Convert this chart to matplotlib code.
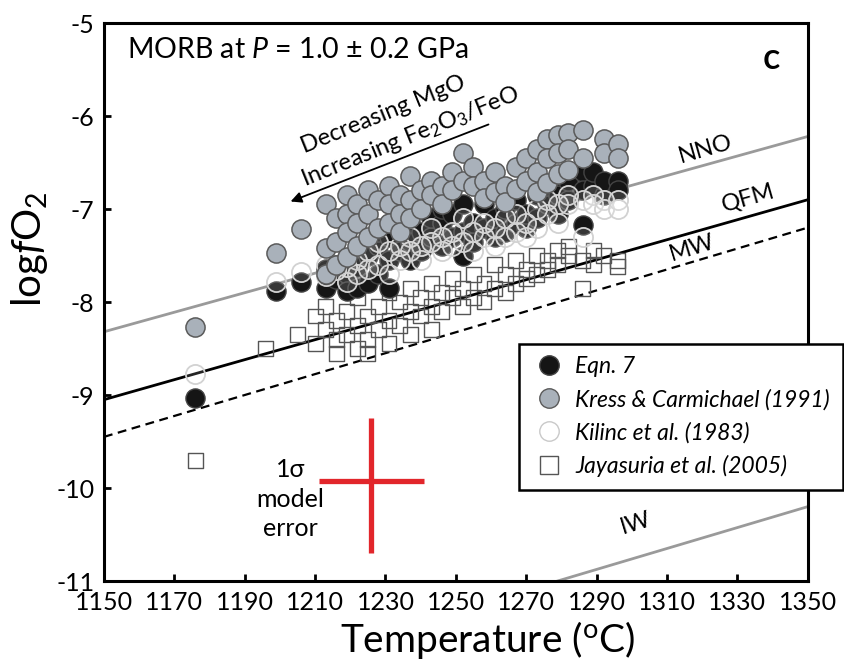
import matplotlib
matplotlib.use('Agg')
import matplotlib.pyplot as plt
from matplotlib import font_manager as fm
from matplotlib.lines import Line2D

names = {f.name for f in fm.fontManager.ttflist}
MAIN = 'Lato' if 'Lato' in names else 'DejaVu Sans'
NARROW = 'Liberation Sans Narrow' if 'Liberation Sans Narrow' in names else MAIN

plt.rcParams['font.family'] = [MAIN, 'DejaVu Sans']
plt.rcParams['axes.unicode_minus'] = False
plt.rcParams['mathtext.fontset'] = 'custom'
plt.rcParams['mathtext.rm'] = MAIN
plt.rcParams['mathtext.it'] = MAIN + ':italic'
plt.rcParams['mathtext.bf'] = MAIN + ':bold'

# ---------------- data ----------------
# Kress & Carmichael (1991): temperature -> logfO2 values
kc_cols = {
    1176: [-8.27], 1199: [-7.47], 1206: [-7.22],
    1213: [-6.95, -7.42, -7.70], 1216: [-7.10, -7.35, -7.60],
    1219: [-6.85, -7.05, -7.25, -7.52], 1222: [-6.95, -7.15, -7.40],
    1225: [-6.80, -7.05, -7.30], 1228: [-6.90, -7.20],
    1231: [-6.75, -6.95, -7.15], 1234: [-6.85, -7.05, -7.25],
    1237: [-6.65, -6.90, -7.10], 1240: [-6.80, -7.00],
    1243: [-6.70, -6.85], 1246: [-6.75, -6.95],
    1249: [-6.60, -6.80], 1252: [-6.40, -6.70],
    1255: [-6.55, -6.75], 1258: [-6.70, -6.88], 1261: [-6.60, -6.82],
    1264: [-6.75, -6.92], 1267: [-6.55, -6.78], 1270: [-6.45, -6.70],
    1273: [-6.35, -6.60, -6.82], 1276: [-6.25, -6.45, -6.72],
    1279: [-6.20, -6.40, -6.62], 1282: [-6.18, -6.35, -6.58],
    1286: [-6.15, -6.45], 1292: [-6.25, -6.40], 1296: [-6.30, -6.45],
}
# Eqn. 7
eq7_cols = {
    1176: [-9.03], 1199: [-7.88], 1206: [-7.78], 1213: [-7.65, -7.85],
    1216: [-7.75, -7.60], 1219: [-7.70, -7.88], 1222: [-7.85, -7.62],
    1225: [-7.80, -7.50], 1228: [-7.70, -7.40, -7.25], 1231: [-7.85, -7.55, -7.30],
    1234: [-7.45, -7.20], 1237: [-7.35, -7.15, -7.55], 1240: [-7.45, -7.25],
    1243: [-7.30, -7.10], 1246: [-7.40, -7.15, -7.00], 1249: [-7.30, -7.05],
    1252: [-7.50, -7.25, -6.95], 1255: [-7.35, -7.15], 1258: [-7.20, -6.95],
    1261: [-7.30, -7.10], 1264: [-7.25, -7.00], 1267: [-7.15, -6.90],
    1270: [-7.20, -7.05], 1273: [-7.10, -6.85], 1276: [-6.95, -6.75],
    1279: [-7.05, -6.85, -6.65], 1282: [-6.90, -6.70], 1286: [-6.60, -6.80, -7.17],
    1289: [-6.75, -6.60], 1292: [-6.85, -6.70], 1296: [-6.70, -6.80],
}
# Kilinc et al. (1983)
kil_cols = {
    1176: [-8.77], 1199: [-7.78], 1206: [-7.68], 1213: [-7.60, -7.72],
    1216: [-7.66], 1219: [-7.62, -7.78], 1222: [-7.70, -7.55],
    1225: [-7.65, -7.45], 1228: [-7.60, -7.35], 1231: [-7.70, -7.45],
    1234: [-7.40, -7.55], 1237: [-7.45, -7.30], 1240: [-7.40, -7.55],
    1243: [-7.35, -7.20], 1246: [-7.30, -7.45], 1249: [-7.25, -7.40],
    1252: [-7.35, -7.10], 1255: [-7.25, -7.45], 1258: [-7.15, -7.30],
    1261: [-7.20, -7.40], 1264: [-7.10, -7.30], 1267: [-7.05, -7.25],
    1270: [-7.15, -7.30], 1273: [-7.00, -7.20], 1276: [-7.05, -6.90],
    1279: [-6.95, -7.15], 1282: [-6.95, -6.85], 1286: [-6.90, -7.30],
    1289: [-6.85, -6.95], 1292: [-6.90, -7.00], 1296: [-6.90, -7.00],
}
# Jayasuria et al. (2005)
jay_cols = {
    1176: [-9.70], 1196: [-8.50], 1205: [-8.35], 1210: [-8.15, -8.45],
    1213: [-8.05, -8.30], 1216: [-8.20, -8.40, -8.55], 1219: [-8.10, -8.35],
    1222: [-7.95, -8.25, -8.50], 1225: [-8.15, -8.40, -8.55], 1228: [-8.05, -8.30],
    1231: [-7.90, -8.20, -8.45], 1234: [-8.00, -8.25], 1237: [-7.85, -8.10, -8.35],
    1240: [-7.95, -8.15], 1243: [-7.80, -8.05, -8.30], 1246: [-7.90, -8.10],
    1249: [-7.75, -7.95], 1252: [-7.85, -8.05], 1255: [-7.70, -7.95],
    1258: [-7.80, -8.00], 1261: [-7.60, -7.85], 1264: [-7.70, -7.90],
    1267: [-7.55, -7.80], 1270: [-7.65, -7.75], 1273: [-7.50, -7.70],
    1276: [-7.55, -7.65], 1279: [-7.45, -7.60], 1282: [-7.50, -7.40],
    1286: [-7.55, -7.85], 1289: [-7.45, -7.60], 1292: [-7.50], 1296: [-7.55, -7.62],
}

# oxygen buffers (end points)
buf_T = [1150, 1350]
nno = [-8.32, -6.22]
qfm = [-9.05, -6.90]
mw = [-9.45, -7.20]
iw_T = [1270, 1350]
iw = [-11.10, -10.20]

# 1 sigma model error cross
err_T, err_y = 1226, -9.92
err_dT = 15
err_dy_up, err_dy_lo = 0.67, 0.78

xticks = list(range(1150, 1351, 20))
yticks = list(range(-11, -4))


def flat(cols):
    xs, ys = [], []
    for t, vals in cols.items():
        for v in vals:
            xs.append(t)
            ys.append(v)
    return xs, ys

# ---------------- figure ----------------
fig = plt.figure(figsize=(8.45, 6.69), dpi=100)
ax = fig.add_axes([0.123, 0.1315, 0.833, 0.8341])
ax.set_xlim(1150, 1350)
ax.set_ylim(-11, -5)

ax.plot(buf_T, nno, color='#9a9a9a', lw=2.0, zorder=1)
ax.plot(buf_T, qfm, color='black', lw=2.0, zorder=1)
ax.plot(buf_T, mw, color='black', lw=1.6, ls=(0, (4, 2.5)), zorder=1)
ax.plot(iw_T, iw, color='#9a9a9a', lw=2.0, zorder=1)

x, y = flat(jay_cols)
ax.scatter(x, y, s=115, marker='s', facecolors='none', edgecolors='#555555', linewidths=1.0, zorder=2)
x, y = flat(eq7_cols)
ax.scatter(x, y, s=190, marker='o', facecolors='#151515', edgecolors='#444444', linewidths=1.0, zorder=3)
x, y = flat(kil_cols)
ax.scatter(x, y, s=190, marker='o', facecolors=(1, 1, 1, 0.15), edgecolors='#d2d2d2', linewidths=1.3, zorder=4)
x, y = flat(kc_cols)
ax.scatter(x, y, s=190, marker='o', facecolors='#a9b1ba', edgecolors='#5a5a5a', linewidths=1.1, zorder=5)

# error cross
ax.plot([err_T - err_dT, err_T + err_dT], [err_y, err_y], color='#e2262b', lw=3.8,
        solid_capstyle='butt', zorder=6)
ax.plot([err_T, err_T], [err_y + err_dy_up, err_y - err_dy_lo], color='#e2262b', lw=3.8,
        solid_capstyle='butt', zorder=6)
ax.text(1203, -10.12, '1\u03c3\nmodel\nerror', fontsize=18, ha='center', va='center',
        linespacing=1.35, family=[MAIN, 'DejaVu Sans'])

# buffer labels
ax.text(1321, -6.36, 'NNO', fontsize=17, rotation=16, ha='center', va='center')
ax.text(1333, -6.88, 'QFM', fontsize=17, rotation=16, ha='center', va='center')
ax.text(1317, -7.42, 'MW', fontsize=17, rotation=17, ha='center', va='center')
ax.text(1301, -10.38, 'IW', fontsize=17, rotation=17, ha='center', va='center')

# arrow and annotations
ax.annotate('', xy=(1202.3, -6.93), xytext=(1260, -6.08),
            arrowprops=dict(arrowstyle='-|>', color='black', lw=1.3, mutation_scale=16))
ax.text(1229.5, -5.98, 'Decreasing MgO', fontsize=17, rotation=22, ha='center', va='center')
ax.text(1237, -6.22, r'Increasing Fe$_2$O$_3$/FeO', fontsize=17, rotation=22,
        ha='center', va='center')

ax.text(0.033, 0.975, r'MORB at $P$ = 1.0 ± 0.2 GPa', transform=ax.transAxes,
        fontsize=20.5, ha='left', va='top')
ax.text(1339.5, -5.38, 'c', fontsize=26, fontweight='semibold', ha='center', va='center')

# axes styling
ax.set_xticks(xticks)
ax.set_yticks(yticks)
ax.set_xticklabels([str(t) for t in xticks], family=NARROW)
ax.set_yticklabels([str(t) for t in yticks], family=NARROW)
ax.tick_params(direction='in', length=5, width=2, labelsize=18, pad=7, top=False, right=False)
for s in ax.spines.values():
    s.set_linewidth(2.2)
ax.set_xlabel(r'Temperature ($^{\rm o}$C)', fontsize=28)
ax.xaxis.set_label_coords(0.545, -0.068)
ax.set_ylabel(r'log$\mathit{f}$O$_2$', fontsize=29)
ax.yaxis.set_label_coords(-0.077, 0.595)

handles = [
    Line2D([], [], ls='', marker='o', markersize=14, mfc='#151515', mec='#444444', label='Eqn. 7'),
    Line2D([], [], ls='', marker='o', markersize=14, mfc='#a9b1ba', mec='#5a5a5a', label='Kress & Carmichael (1991)'),
    Line2D([], [], ls='', marker='o', markersize=14, mfc='white', mec='#c9c9c9', label='Kilinc et al. (1983)'),
    Line2D([], [], ls='', marker='s', markersize=13, mfc='white', mec='#555555', label='Jayasuria et al. (2005)'),
]
leg = ax.legend(handles=handles, loc='upper left', bbox_to_anchor=(0.5895, 0.165, 0.46, 0.26),
                mode='expand', borderaxespad=0, fancybox=False, framealpha=1,
                edgecolor='black', prop={'family': MAIN, 'style': 'italic', 'size': 16.5},
                handletextpad=0.4, labelspacing=0.5, borderpad=0.55, handlelength=1.5)
leg.get_frame().set_linewidth(1.8)
leg.set_zorder(10)

fig.savefig('out.png', dpi=100)
